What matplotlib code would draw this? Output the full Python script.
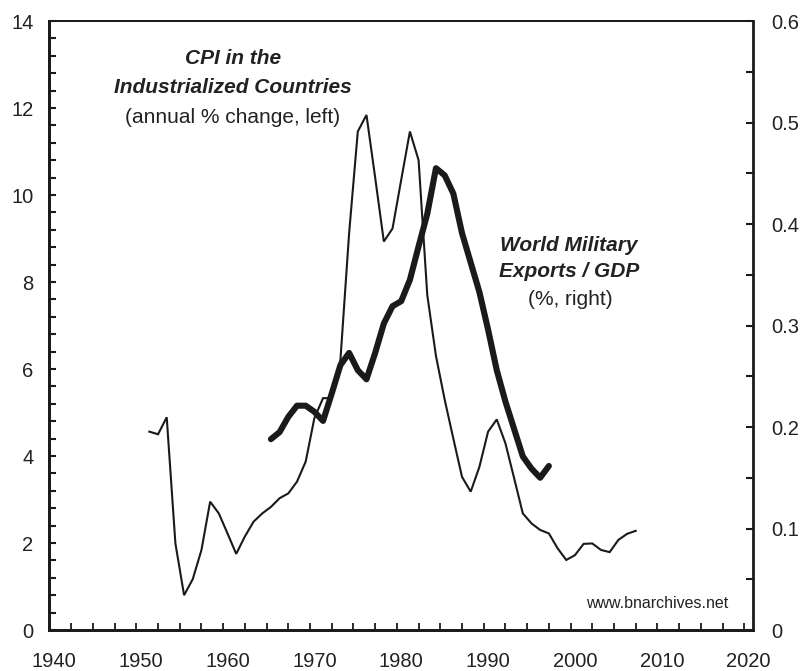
import numpy as np
import matplotlib
matplotlib.use('Agg')
import matplotlib.pyplot as plt
from matplotlib.ticker import FixedLocator, MultipleLocator, FuncFormatter

plt.rcParams['font.family'] = ['Liberation Sans', 'DejaVu Sans']

# CPI in the industrialized countries, annual % change (left axis)
cpi_years = list(range(1951, 2008))
cpi_values = [4.56, 4.50, 4.89, 1.99, 0.80, 1.17, 1.84, 2.95, 2.68, 2.22,
              1.75, 2.15, 2.49, 2.68, 2.83, 3.03, 3.14, 3.41, 3.87, 4.87,
              5.33, 5.33, 6.21, 9.12, 11.46, 11.84, 10.4, 8.93, 9.23, 10.35,
              11.46, 10.80, 7.70, 6.30, 5.30, 4.40, 3.52, 3.18, 3.75, 4.56,
              4.84, 4.29, 3.49, 2.68, 2.45, 2.30, 2.22, 1.88, 1.61, 1.72,
              1.98, 1.99, 1.84, 1.79, 2.07, 2.21, 2.28]

# world military exports / GDP, % (right axis)
mil_years = list(range(1965, 1998))
mil_values = [0.188, 0.195, 0.210, 0.221, 0.221, 0.215, 0.206, 0.233, 0.261, 0.273,
              0.256, 0.247, 0.273, 0.302, 0.319, 0.324, 0.345, 0.378, 0.410, 0.455,
              0.448, 0.430, 0.391, 0.362, 0.333, 0.296, 0.256, 0.225, 0.198, 0.171,
              0.159, 0.150, 0.1616]

ink = '#1a1a1a'
txt = '#222222'

fig = plt.figure(figsize=(8.03, 6.71), dpi=100)
ax = fig.add_axes([0.0616, 0.0611, 0.8761, 0.9076])
ax2 = ax.twinx()

ax.plot(cpi_years, cpi_values, color=ink, linewidth=1.5, solid_joinstyle='miter')
ax2.plot(mil_years, mil_values, color=ink, linewidth=4.4, solid_joinstyle='round',
         solid_capstyle='round')

ax.set_xlim(1939.5, 2020.5)
ax.set_ylim(0, 14)
ax2.set_ylim(0, 0.6)

# x axis: labels every 10 years, tick marks every 2.5
ax.xaxis.set_major_locator(FixedLocator(range(1940, 2021, 10)))
ax.xaxis.set_minor_locator(FixedLocator(np.arange(1942, 2020, 2.5)))
ax.tick_params(axis='x', which='major', length=0, pad=15.5, labelsize=14.5, labelcolor=txt)
ax.tick_params(axis='x', which='minor', direction='in', length=5, width=1.3, color=ink)

ax.yaxis.set_major_locator(MultipleLocator(2))
ax.yaxis.set_minor_locator(MultipleLocator(0.4))
ax.tick_params(axis='y', which='both', direction='in', length=5, width=1.5, color=ink)
ax.tick_params(axis='y', which='major', pad=11.5, labelsize=14.5, labelcolor=txt)

ax2.yaxis.set_major_locator(MultipleLocator(0.1))
ax2.yaxis.set_minor_locator(MultipleLocator(0.05))
ax2.yaxis.set_major_formatter(FuncFormatter(lambda v, p: '0' if v == 0 else '%.1f' % v))
ax2.tick_params(axis='y', which='both', direction='in', length=5, width=1.5, color=ink)
ax2.tick_params(axis='y', which='major', pad=13, labelsize=14.5, labelcolor=txt)

for a in (ax, ax2):
    for s in ('left', 'bottom', 'right'):
        a.spines[s].set_linewidth(2.0)
        a.spines[s].set_color(ink)
    a.spines['top'].set_linewidth(1.3)
    a.spines['top'].set_color(ink)
ax.spines['right'].set_visible(False)

# labels for the two series
fs = 15
ax.text(1960.6, 13.13, 'CPI in the', ha='center', va='center', fontsize=fs,
        fontweight='bold', fontstyle='italic', color=txt)
ax.text(1960.6, 12.46, 'Industrialized Countries', ha='center', va='center', fontsize=fs,
        fontweight='bold', fontstyle='italic', color=txt)
ax.text(1960.6, 11.79, '(annual % change, left)', ha='center', va='center', fontsize=fs,
        color=txt)

ax.text(1999.3, 8.85, 'World Military', ha='center', va='center', fontsize=fs,
        fontweight='bold', fontstyle='italic', color=txt)
ax.text(1999.3, 8.24, 'Exports / GDP', ha='center', va='center', fontsize=fs,
        fontweight='bold', fontstyle='italic', color=txt)
ax.text(1999.5, 7.59, '(%, right)', ha='center', va='center', fontsize=fs, color=txt)

ax.text(2017.6, 0.62, 'www.bnarchives.net', ha='right', va='center', fontsize=11.5,
        color=txt)

fig.savefig('out.png', dpi=100, facecolor='white')
